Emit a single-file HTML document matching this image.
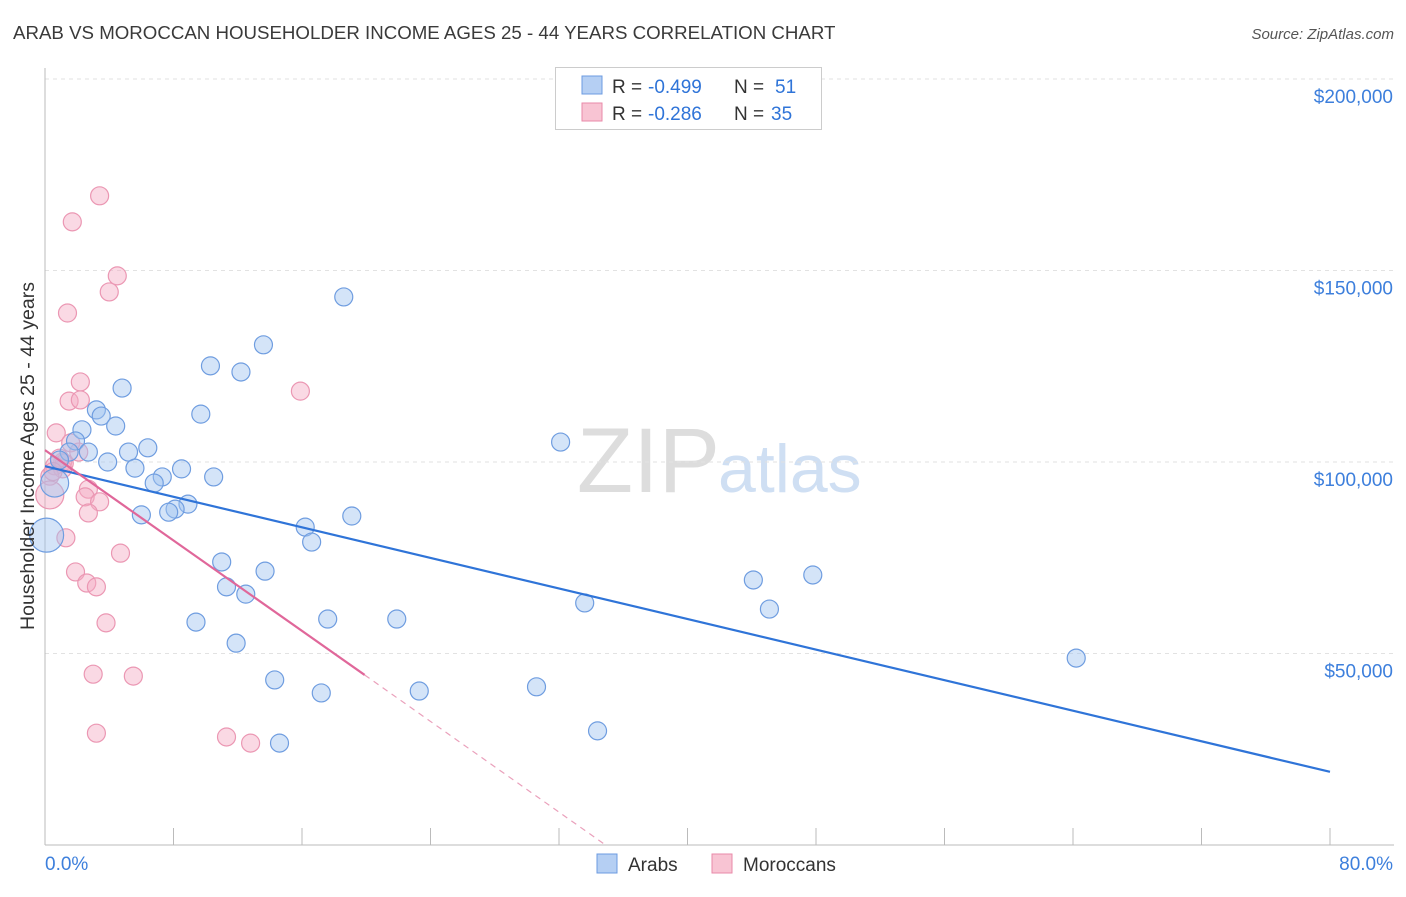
<!DOCTYPE html>
<html><head><meta charset="utf-8"><style>
body{margin:0;background:#fff;font-family:"Liberation Sans",sans-serif;}
svg text{font-family:"Liberation Sans",sans-serif;}
</style></head><body>
<svg id="chart" width="1406" height="892">
<text x="13" y="39" font-size="18.7" fill="#3a3a3a">ARAB VS MOROCCAN HOUSEHOLDER INCOME AGES 25 - 44 YEARS CORRELATION CHART</text>
<text x="1394" y="39" font-size="15" fill="#555" font-style="italic" text-anchor="end">Source: ZipAtlas.com</text>
<text x="720" y="492" font-size="92" fill="#ddd" text-anchor="end" font-family="Liberation Serif">ZIP</text>
<text x="718" y="492" font-size="68" fill="#cfdff3">atlas</text>
<g id="grid"></g><g id="axes"></g><g id="marks"></g>
<text transform="translate(34,456) rotate(-90)" font-size="19.5" fill="#333" text-anchor="middle">Householder Income Ages 25 - 44 years</text>
<g>
<rect x="555.500" y="67.500" width="266" height="62" fill="#fff" stroke="#ccc"/>
<rect x="582" y="76" width="20" height="18" fill="#b5cff3" stroke="#6c9be0"/>
<text x="612" y="93" font-size="19" fill="#333">R =</text>
<text x="648" y="93" font-size="19" fill="#2f74d8">-0.499</text>
<text x="734" y="93" font-size="19" fill="#333">N =</text>
<text x="775" y="93" font-size="19" fill="#2f74d8">51</text>
<rect x="582" y="103" width="20" height="18" fill="#f8c4d3" stroke="#e98aa8"/>
<text x="612" y="120" font-size="19" fill="#333">R =</text>
<text x="648" y="120" font-size="19" fill="#2f74d8">-0.286</text>
<text x="734" y="120" font-size="19" fill="#333">N =</text>
<text x="771" y="120" font-size="19" fill="#2f74d8">35</text>
</g>
<g>
<rect x="597" y="854" width="20" height="19" fill="#b5cff3" stroke="#6c9be0"/>
<text x="628" y="871" font-size="19" fill="#333">Arabs</text>
<rect x="712" y="854" width="20" height="19" fill="#f8c4d3" stroke="#e98aa8"/>
<text x="743" y="871" font-size="19" fill="#333">Moroccans</text>
</g>
</svg>
<script>
const blueX=[18.6,13.6,10.3,12.2,4.8,3.2,3.5,9.7,4.4,2.3,1.9,2.7,1.5,5.2,6.4,3.9,5.6,8.5,7.3,6.8,10.5,8.9,8.1,7.7,6.0,19.1,16.2,16.6,32.1,11.0,13.7,11.3,12.5,44.1,47.8,33.6,45.1,9.4,17.6,21.9,11.9,64.2,14.3,17.2,23.3,30.6,34.4,14.6,0.6,0.1,0.9];
const blueY=[143.1,130.6,125.1,123.5,119.3,113.6,112.0,112.5,109.4,108.4,105.5,102.6,102.6,102.6,103.7,100.0,98.4,98.2,96.1,94.5,96.1,89.0,87.7,86.9,86.2,85.9,83.0,79.1,105.2,73.9,71.5,67.4,65.5,69.2,70.5,63.2,61.6,58.2,59.0,59.0,52.7,48.8,43.1,39.7,40.2,41.3,29.8,26.6,94.5,80.9,100.5];
const blueR=[9,9,9,9,9,9,9,9,9,9,9,9,9,9,9,9,9,9,9,9,9,9,9,9,9,9,9,9,9,9,9,9,9,9,9,9,9,9,9,9,9,9,9,9,9,9,9,9,14,17,9];
const pinkX=[3.4,1.7,4.5,4.0,1.4,15.9,2.2,1.5,2.2,0.7,1.6,2.1,1.1,0.6,1.1,0.3,2.7,2.5,3.4,2.7,0.3,1.3,4.7,1.9,2.6,3.2,3.8,3.0,5.5,3.2,11.3,12.8,1.2,0.9,0.5];
const pinkY=[169.5,162.7,148.6,144.4,138.9,118.5,120.9,115.9,116.2,107.6,105.0,102.6,100.0,99.0,98.2,96.3,92.9,90.9,89.6,86.7,91.4,80.2,76.2,71.3,68.4,67.4,58.0,44.6,44.1,29.2,28.2,26.6,99.7,101.0,97.5];
const pinkR=[9,9,9,9,9,9,9,9,9,9,9,9,9,9,9,9,9,9,9,9,14,9,9,9,9,9,9,9,9,9,9,9,9,9,9];
const yTicks=[50,100,150,200];
const yTickLabels=["$50,000","$100,000","$150,000","$200,000"];
const blueLine=[[0,98.9],[80,19.1]];
const pinkSolid=[[0,103.1],[19.9,44.4]];
const pinkDash=[[19.9,44.4],[34.9,0]];
const X=v=>45+v/80*1285, Y=v=>845-v/50*191.5;
const NS="http://www.w3.org/2000/svg";
function mk(p,t,a){const e=document.createElementNS(NS,t);for(const k in a)e.setAttribute(k,a[k]);p.appendChild(e);return e;}
const grid=document.getElementById('grid'),axes=document.getElementById('axes'),marks=document.getElementById('marks');
yTicks.forEach((t,i)=>{
 const l=mk(grid,'line',{x1:45,x2:1394,y1:Y(t),y2:Y(t),stroke:'#e2e2e2','stroke-dasharray':'4,4'});
 
 
 const tx=mk(axes,'text',{x:1393,y:Y(t)+24,'font-size':19,fill:'#3d7fdc','text-anchor':'end'});tx.textContent=yTickLabels[i];
 
 
});
const ax=mk(axes,'line',{x1:45,x2:1394,y1:845,y2:845,stroke:'#bbb'});


const ay=mk(axes,'line',{x1:45,x2:45,y1:68,y2:845,stroke:'#bbb'});


for(let i=0;i<=10;i++){const t=mk(axes,'line',{x1:X(i*8),x2:X(i*8),y1:828,y2:845,stroke:'#bbb'});
 
 }
const l0=mk(axes,'text',{x:45,y:870,'font-size':19,fill:'#3d7fdc'});l0.textContent='0.0%';


const l1=mk(axes,'text',{x:1393,y:870,'font-size':19,fill:'#3d7fdc','text-anchor':'end'});l1.textContent='80.0%';


pinkX.forEach((x,i)=>{const c=mk(marks,'circle',{cx:X(x),cy:Y(pinkY[i]),r:pinkR[i],fill:'rgba(245,170,195,0.45)',stroke:'#eb97b3','stroke-width':1.2});
 
 });
blueX.forEach((x,i)=>{const c=mk(marks,'circle',{cx:X(x),cy:Y(blueY[i]),r:blueR[i],fill:'rgba(160,195,240,0.45)',stroke:'#6f9de0','stroke-width':1.2});
 
 });
const bl=mk(marks,'line',{x1:X(blueLine[0][0]),y1:Y(blueLine[0][1]),x2:X(blueLine[1][0]),y2:Y(blueLine[1][1]),stroke:'#2f74d8','stroke-width':2.2});


const ps=mk(marks,'line',{x1:X(pinkSolid[0][0]),y1:Y(pinkSolid[0][1]),x2:X(pinkSolid[1][0]),y2:Y(pinkSolid[1][1]),stroke:'#e0679a','stroke-width':2.2});


const pd=mk(marks,'line',{x1:X(pinkDash[0][0]),y1:Y(pinkDash[0][1]),x2:X(pinkDash[1][0]),y2:Y(pinkDash[1][1]),stroke:'#eaa0bb','stroke-width':1.2,'stroke-dasharray':'6,5'});


</script>
</body></html>
